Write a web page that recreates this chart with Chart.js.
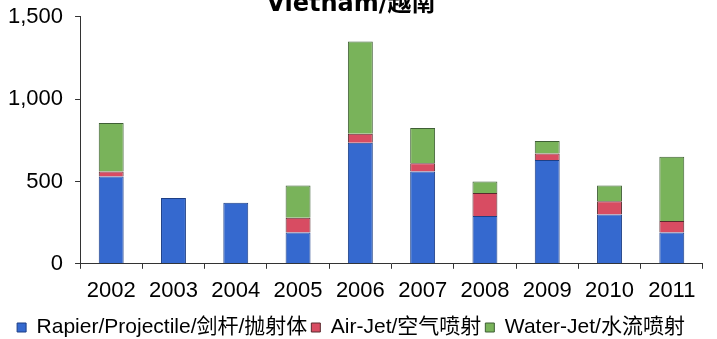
<!DOCTYPE html>
<html><head><meta charset="utf-8">
<script src="https://cdn.jsdelivr.net/npm/chart.js@4"></script>
<style>html,body{margin:0;padding:0;background:#fff;}#wrap{width:717px;height:339px;}</style>
</head><body><div id="wrap"><canvas id="c" width="717" height="339"></canvas></div>
<script>
const categories = ['2002','2003','2004','2005','2006','2007','2008','2009','2010','2011'];
const rapier = [530, 400, 370, 190, 735, 560, 290, 630, 300, 190];
const airJet = [30, 0, 0, 90, 55, 50, 140, 40, 80, 70];
const waterJet = [295, 0, 0, 195, 560, 215, 70, 75, 95, 390];
const yTicks = [0, 500, 1000, 1500];
const seriesNames = ['Rapier/Projectile/剑杆/抛射体', 'Air-Jet/空气喷射', 'Water-Jet/水流喷射'];

const fontFam = '"Liberation Sans", Arial, "Noto Sans CJK SC", sans-serif';
new Chart(document.getElementById('c'), {
  type: 'bar',
  data: {
    labels: categories,
    datasets: [
      {label: seriesNames[0], data: rapier, backgroundColor: '#3569cf', borderColor: '#1d3f86', borderWidth: 1},
      {label: seriesNames[1], data: airJet, backgroundColor: '#d84c62', borderColor: '#5a2a2e', borderWidth: 1},
      {label: seriesNames[2], data: waterJet, backgroundColor: '#79b35a', borderColor: '#3f5f35', borderWidth: 1}
    ]
  },
  options: {
    responsive: false,
    animation: false,
    datasets: {bar: {barPercentage: 0.4, categoryPercentage: 1.0}},
    layout: {padding: {left: -4, right: 11, top: 0, bottom: -9}},
    plugins: {
      title: {display: true, text: 'Vietnam/越南', color: '#000',
        font: {family: '"DejaVu Sans", "Noto Sans CJK SC", sans-serif', size: 24, weight: 'bold', lineHeight: 1.2},
        padding: {top: -10, bottom: -2}},
      legend: {position: 'bottom',
        labels: {color: '#000', boxWidth: 9, boxHeight: 9, padding: 4,
          font: {family: fontFam, size: 21}}},
      tooltip: {enabled: false}
    },
    scales: {
      x: {stacked: true,
        grid: {display: true, drawOnChartArea: false, offset: true, tickLength: 5, color: '#333'},
        border: {display: true, color: '#333', width: 1},
        ticks: {color: '#000', font: {family: fontFam, size: 22, lineHeight: 0.1}, padding: 21}
      },
      y: {stacked: true, min: 0, max: 1500,
        afterBuildTicks: (s) => { s.ticks = yTicks.map(v => ({value: v})); },
        grid: {display: true, drawOnChartArea: false, tickLength: 5, color: '#333'},
        border: {display: true, color: '#333', width: 1},
        ticks: {color: '#000', font: {family: fontFam, size: 22, lineHeight: 0.4}, padding: 12,
          callback: (v) => v.toLocaleString('en-US')}
      }
    }
  }
});
</script></body></html>
